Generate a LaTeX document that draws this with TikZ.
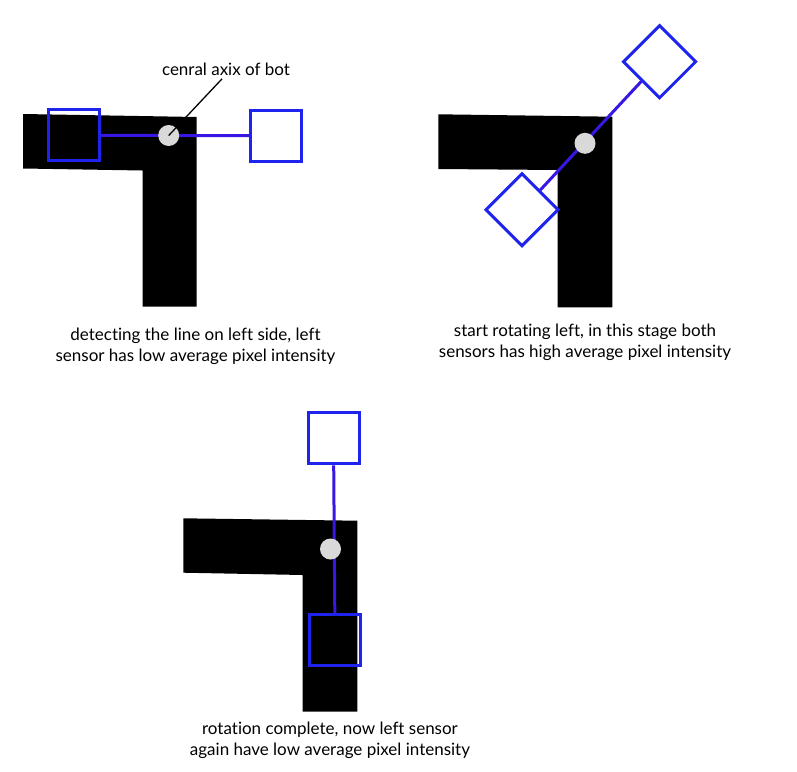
\documentclass[tikz,border=0pt]{standalone}
\usepackage{fontspec}
\setmainfont{Lato}[Ligatures=NoCommon]
\usetikzlibrary{positioning}
\definecolor{sensorblue}{RGB}{30,36,236}
\definecolor{linkviolet}{RGB}{58,22,228}

\begin{document}
\begin{tikzpicture}[x=1pt, y=-1pt,
  track/.style={fill=black},
  sensor/.style={draw=sensorblue, line width=3pt, minimum size=51pt, inner sep=0pt},
  axis/.style={circle, fill=black!15, minimum size=21pt, inner sep=0pt},
  link/.style={draw=linkviolet, line width=3pt},
  caption/.style={align=center, font=\fontsize{17}{21}\selectfont}
]
\useasboundingbox (0,0) rectangle (797,771);

% panel 1: line detected on the left
\fill[track] (23,114) -- (196.5,117) -- (196.5,306.5) -- (142.5,306.5)
  -- (142.5,170.5) -- (23,168.5) -- cycle;
\node[sensor] (sA1) at (74.2,135.3) {};
\node[sensor] (sA2) at (276.3,135.7) {};
\draw[link] (sA1) -- (sA2);
\node[axis] (axisA) at (168.7,135.5) {};
\node[caption] (noteA) at (226,69) {cenral axix of bot};
\draw[line width=1.3pt] ([xshift=-4pt]noteA.south) -- (axisA.center);
\node[caption] (capA) at (195.5,346.5) {detecting the line on left side, left\\ sensor has low average pixel intensity};

% panel 2: rotating left
\fill[track] (438.3,114.3) -- (612.3,116.7) -- (612.3,307.3) -- (557.7,307.3)
  -- (557.7,170) -- (438.3,169) -- cycle;
\node[sensor, rotate=45, fill=white] (sB1) at (522,209.7) {};
\node[sensor, rotate=45, fill=white] (sB2) at (659.6,61.7) {};
\draw[link] (sB1) -- (sB2);
\node[axis] (axisB) at (585,143.3) {};
\node[caption] (capB) at (585,342.5) {start rotating left, in this stage both\\ sensors has high average pixel intensity};

% panel 3: rotation complete
\fill[track] (183.3,518.3) -- (357.3,520.7) -- (357.3,711.7) -- (302.7,711.7)
  -- (302.7,575) -- (183.3,572.7) -- cycle;
\node[sensor, fill=white] (sC1) at (333.5,438.3) {};
\node[sensor] (sC2) at (335,640) {};
\draw[link] (sC1) -- (sC2);
\node[axis] (axisC) at (330.5,549) {};
\node[caption] (capC) at (330,740.5) {rotation complete, now left sensor\\ again have low average pixel intensity};
\end{tikzpicture}
\end{document}
